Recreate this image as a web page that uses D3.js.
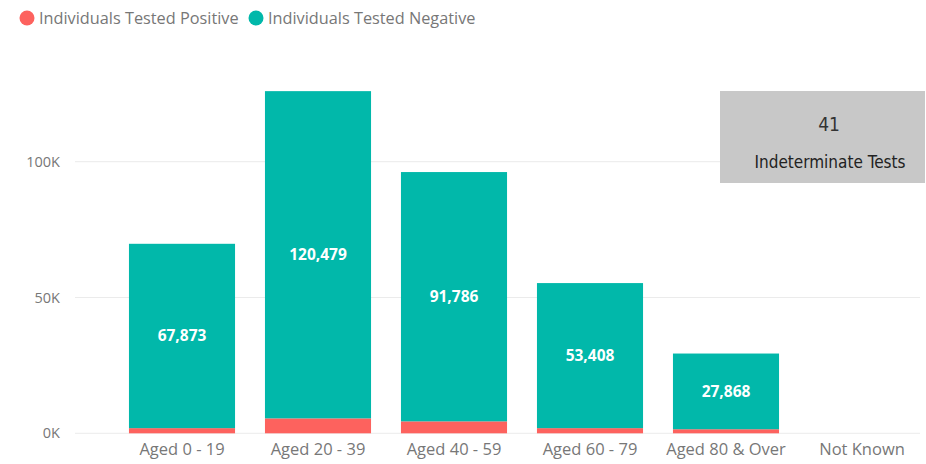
<!DOCTYPE html>
<html>
<head>
<meta charset="utf-8">
<script src="https://cdn.jsdelivr.net/npm/d3@7"></script>
<style>
  body { margin: 0; background: #fff; }
  svg { display: block; }
</style>
</head>
<body>
<svg id="svg"></svg>
<script>
// chart values
const categories = ['Aged 0 - 19', 'Aged 20 - 39', 'Aged 40 - 59', 'Aged 60 - 79', 'Aged 80 & Over', 'Not Known']
const positive = [1900, 5500, 4400, 1900, 1500, 0]
const negative = [67873, 120479, 91786, 53408, 27868, 0]
const yTicks = [0, 50000, 100000]
const seriesNames = ['Individuals Tested Positive', 'Individuals Tested Negative']
const seriesColors = ['#FD625E', '#01B8AA']
const cardValue = 41
const cardLabel = 'Indeterminate Tests'

const w = 926
const h = 464
const font = "'Open Sans', 'Liberation Sans', sans-serif"

let svg = d3.select('#svg').attr('width', w).attr('height', h)

let x = d3.scaleBand()
  .domain(categories)
  .range([114, 930])
  .paddingInner(0.22)
  .paddingOuter(0.11)

let y = d3.scaleLinear()
  .domain([0, 100000])
  .range([433.3, 161.7])

// gridlines
svg.append('g')
  .selectAll('line')
  .data(yTicks)
  .enter().append('line')
  .attr('x1', 75).attr('x2', 920)
  .attr('y1', d => y(d)).attr('y2', d => y(d))
  .attr('stroke', '#ebebeb')
  .attr('stroke-width', 1)

// y axis labels
let yAxis = svg.append('g')
  .attr('transform', 'translate(60,0)')
  .call(d3.axisLeft(y).tickValues(yTicks).tickSize(0).tickPadding(0)
    .tickFormat(d => d3.format('d')(d / 1000) + 'K'))
yAxis.select('.domain').remove()
yAxis.selectAll('text')
  .attr('font-family', font)
  .attr('font-size', 14.5)
  .attr('fill', '#777')

// x axis labels
let xAxis = svg.append('g')
  .attr('transform', 'translate(0,' + 443 + ')')
  .call(d3.axisBottom(x).tickSize(0).tickPadding(0))
xAxis.select('.domain').remove()
xAxis.selectAll('text')
  .attr('font-family', font)
  .attr('font-size', 16.5)
  .attr('fill', '#777')

// stacked bars
let rows = categories.map((c, i) => ({ cat: c, pos: positive[i], neg: negative[i] }))
let stack = d3.stack().keys(['pos', 'neg'])(rows)

svg.append('g')
  .selectAll('g')
  .data(stack)
  .enter().append('g')
  .attr('fill', (d, i) => seriesColors[i])
  .selectAll('rect')
  .data(d => d)
  .enter().append('rect')
  .attr('x', d => x(d.data.cat))
  .attr('width', x.bandwidth())
  .attr('y', d => y(d[1]))
  .attr('height', d => y(d[0]) - y(d[1]))

// data labels on negative segment
svg.append('g')
  .selectAll('text')
  .data(stack[1].filter(d => d.data.neg > 0))
  .enter().append('text')
  .attr('x', d => x(d.data.cat) + x.bandwidth() / 2)
  .attr('y', d => (y(d[0]) + y(d[1])) / 2)
  .attr('dy', '0.35em')
  .attr('text-anchor', 'middle')
  .attr('font-family', font)
  .attr('font-weight', 'bold')
  .attr('font-size', 15.5)
  .attr('fill', '#fff')
  .text(d => d3.format(',')(d.data.neg))

// legend
let legend = svg.append('g')
let lx = [27, 256]
seriesNames.forEach((name, i) => {
  legend.append('circle')
    .attr('cx', lx[i]).attr('cy', 18).attr('r', 7.5)
    .attr('fill', seriesColors[i])
  legend.append('text')
    .attr('x', lx[i] + 12).attr('y', 18).attr('dy', '0.35em')
    .attr('font-family', font)
    .attr('font-size', 16.3)
    .attr('fill', '#777')
    .text(name)
})

// card
let card = svg.append('g')
card.append('rect')
  .attr('x', 720).attr('y', 91).attr('width', 205).attr('height', 92)
  .attr('fill', '#c8c8c8')
card.append('text')
  .attr('x', 829).attr('y', 124).attr('dy', '0.35em')
  .attr('text-anchor', 'middle')
  .attr('font-family', "'DejaVu Sans Condensed', sans-serif")
  .attr('font-size', 19)
  .attr('fill', '#333')
  .text(cardValue)
card.append('text')
  .attr('x', 830).attr('y', 162).attr('dy', '0.35em')
  .attr('text-anchor', 'middle')
  .attr('font-family', "'DejaVu Sans Condensed', sans-serif")
  .attr('font-size', 17)
  .attr('fill', '#222')
  .text(cardLabel)
</script>
</body>
</html>
